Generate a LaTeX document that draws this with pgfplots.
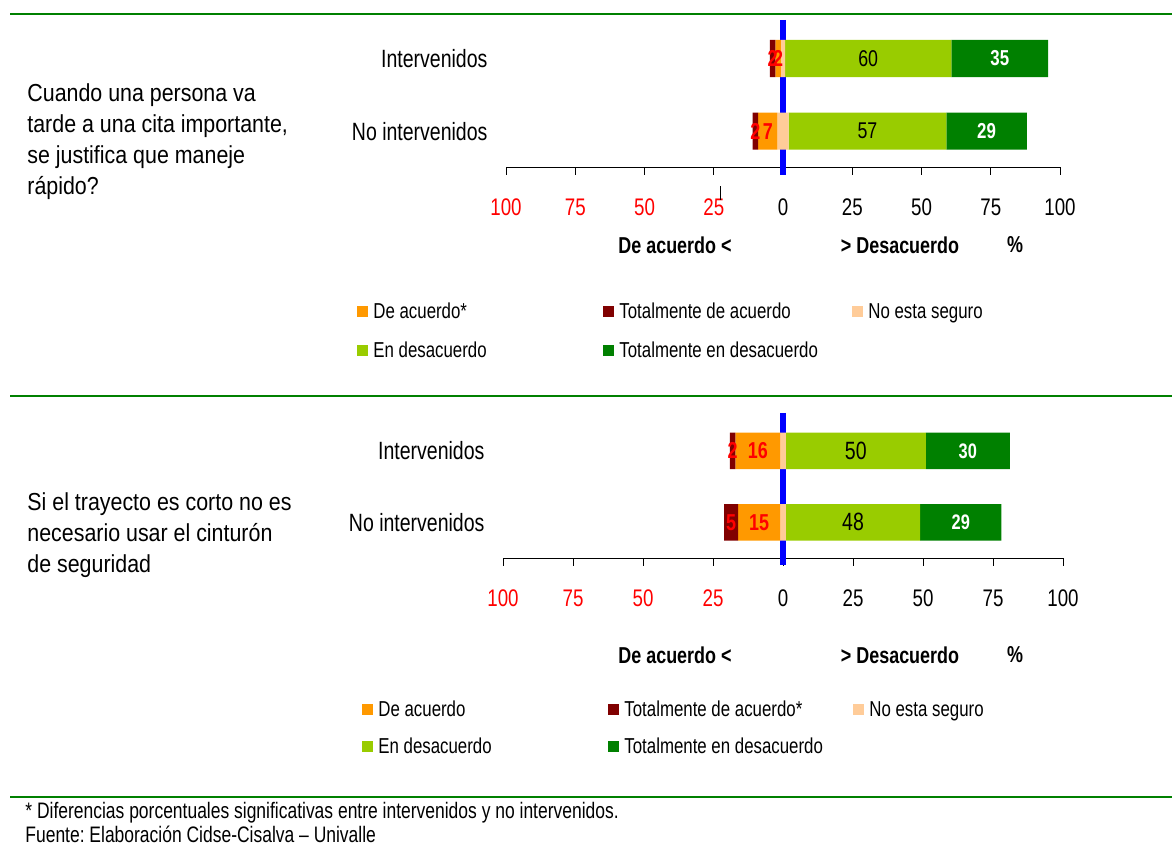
\documentclass[border=0pt]{standalone}
\usepackage{pgfplots}
\pgfplotsset{compat=1.18}
\usepackage{pgfplotstable}
\usepackage{fontspec}
\setmainfont[FakeStretch=0.78]{Liberation Sans}
\newfontfamily\qfont[FakeStretch=0.87]{Liberation Sans}
\frenchspacing

\definecolor{ctda}{RGB}{128,0,0}
\definecolor{cda}{RGB}{255,153,0}
\definecolor{cns}{RGB}{255,204,153}
\definecolor{ced}{RGB}{153,204,0}
\definecolor{cted}{RGB}{0,128,0}
\definecolor{crule}{RGB}{0,128,0}

% off = invisible start of each stacked bar (left end)
\pgfplotstableread{
y off tda da ns ed ted
1 -4.75 2 2 1.5 60 35
0 -11 2 7 4 57 29
}\topdata
\pgfplotstableread{
y off tda da ns ed ted
1 -19 2 16 2 50 30
0 -21 5 15 2 48 29
}\botdata

\pgfplotsset{
  likert/.style={
    scale only axis,
    xbar stacked,
    stack negative=on previous,
    bar width=0.51,
    xmin=-100, xmax=100,
    ymin=-0.5, ymax=1.53,
    clip=false,
    /pgf/number format/assume math mode=true,
    axis lines*=left,
    y axis line style={draw=none},
    ytick={0,1},
    yticklabels={No intervenidos, Intervenidos},
    ytick style={draw=none},
    yticklabel style={font=\fontsize{12.5}{14}\selectfont, xshift=-2pt},
    xtick={-100,-75,...,100},
    xticklabels={\color{red}100,\color{red}75,\color{red}50,\color{red}25,0,25,50,75,100},
    tick align=outside,
    major tick length=3.75pt,
    x axis line style={line width=0.5pt},
    xtick style={black, line width=0.5pt},
    xticklabel style={font=\fontsize{12}{14}\selectfont, anchor=center, yshift=-16.25pt},
  },
  seg/.style={draw=none, fill=#1},
  lab/.style n args={3}{
    nodes near coords,
    point meta=\thisrow{#1},
    every node near coord/.append style={anchor=center, text=#2, font=#3},
  },
}

\newcommand\legitem[4]{%
  \fill[#3] (#1,#2-5.5) rectangle (#1+11,#2+5.5);
  \node[anchor=base west, inner sep=0, font=\fontsize{10.8}{12}\selectfont] at (#1+16,#2+7) {#4};}

\begin{document}
\begin{tikzpicture}
\begin{scope}[x=0.5pt, y=-0.5pt]
  \useasboundingbox (0,0) rectangle (1172,844);
  \coordinate (A) at (506,167.5);
  \coordinate (B) at (503,558);

  % separator rules
  \draw[crule, line width=1pt] (10,13.7) -- (1172,13.7);
  \draw[crule, line width=1pt] (10,396) -- (1172,396);
  \draw[crule, line width=1pt] (10,797) -- (1172,797);

  % questions
  \node[anchor=west, align=left, inner sep=0, font=\qfont\fontsize{12.3}{15.5}\selectfont]
    at (27,142) {Cuando una persona va\\tarde a una cita importante,\\se justifica que maneje\\rápido?};
  \node[anchor=west, align=left, inner sep=0, font=\qfont\fontsize{12.3}{15.5}\selectfont]
    at (27,535) {Si el trayecto es corto no es\\necesario usar el cinturón\\de seguridad};

  % axis captions
  \foreach \yy in {245,655} {
    \node[font=\bfseries\fontsize{11.5}{13}\selectfont] at (675,\yy) {De acuerdo <};
    \node[font=\bfseries\fontsize{11.5}{13}\selectfont] at (900,\yy) {> Desacuerdo};
    \node[font=\bfseries\fontsize{11.5}{13}\selectfont] at (1015,\yy) {\%};
  }

  % legends
  \legitem{357}{312}{cda}{De acuerdo*}
  \legitem{603}{312}{ctda}{Totalmente de acuerdo}
  \legitem{852}{312}{cns}{No esta seguro}
  \legitem{357}{351}{ced}{En desacuerdo}
  \legitem{603}{351}{cted}{Totalmente en desacuerdo}

  \legitem{362}{709}{cda}{De acuerdo}
  \legitem{608}{709}{ctda}{Totalmente de acuerdo*}
  \legitem{853}{709}{cns}{No esta seguro}
  \legitem{362}{746}{ced}{En desacuerdo}
  \legitem{608}{746}{cted}{Totalmente en desacuerdo}

  % footnote
  \node[anchor=base west, inner sep=0, font=\fontsize{11.2}{13}\selectfont] at (25,818)
    {* Diferencias porcentuales significativas entre intervenidos y no intervenidos.};
  \node[anchor=base west, inner sep=0, font=\fontsize{11.2}{13}\selectfont] at (25,842)
    {Fuente: Elaboración Cidse-Cisalva – Univalle};
\end{scope}

% top chart
\begin{axis}[likert, width=277pt, height=73.75pt, at={(A)}, anchor=south west]
  \addplot[draw=none, fill=none] table[x=off, y=y] {\topdata};
  \addplot[seg=ctda, lab={tda}{red}{\bfseries\fontsize{11.5}{13}\selectfont}] table[x=tda, y=y] {\topdata};
  \addplot[seg=cda, lab={da}{red}{\bfseries\fontsize{11.5}{13}\selectfont}] table[x=da, y=y] {\topdata};
  \addplot[seg=cns] table[x=ns, y=y] {\topdata};
  \addplot[seg=ced, lab={ed}{black}{\fontsize{11.4}{13}\selectfont}] table[x=ed, y=y] {\topdata};
  \addplot[seg=cted, lab={ted}{white}{\bfseries\fontsize{10.8}{12}\selectfont}] table[x=ted, y=y] {\topdata};
  \draw[blue, line width=2.6pt] (axis cs:0,1.53) -- (axis cs:0,-0.6);
  \draw[line width=0.5pt] (axis cs:-22.7,-0.755) -- (axis cs:-22.7,-0.947);
\end{axis}

% bottom chart
\begin{axis}[likert, width=280pt, height=72.5pt, at={(B)}, anchor=south west]
  \addplot[draw=none, fill=none] table[x=off, y=y] {\botdata};
  \addplot[seg=ctda, lab={tda}{red}{\bfseries\fontsize{11.5}{13}\selectfont}] table[x=tda, y=y] {\botdata};
  \addplot[seg=cda, lab={da}{red}{\bfseries\fontsize{11.5}{13}\selectfont}] table[x=da, y=y] {\botdata};
  \addplot[seg=cns] table[x=ns, y=y] {\botdata};
  \addplot[seg=ced, lab={ed}{black}{\fontsize{12.5}{14}\selectfont}] table[x=ed, y=y] {\botdata};
  \addplot[seg=cted, lab={ted}{white}{\bfseries\fontsize{10.5}{12}\selectfont}] table[x=ted, y=y] {\botdata};
  \draw[blue, line width=2.6pt] (axis cs:0,1.53) -- (axis cs:0,-0.6);
\end{axis}
\end{tikzpicture}
\end{document}
